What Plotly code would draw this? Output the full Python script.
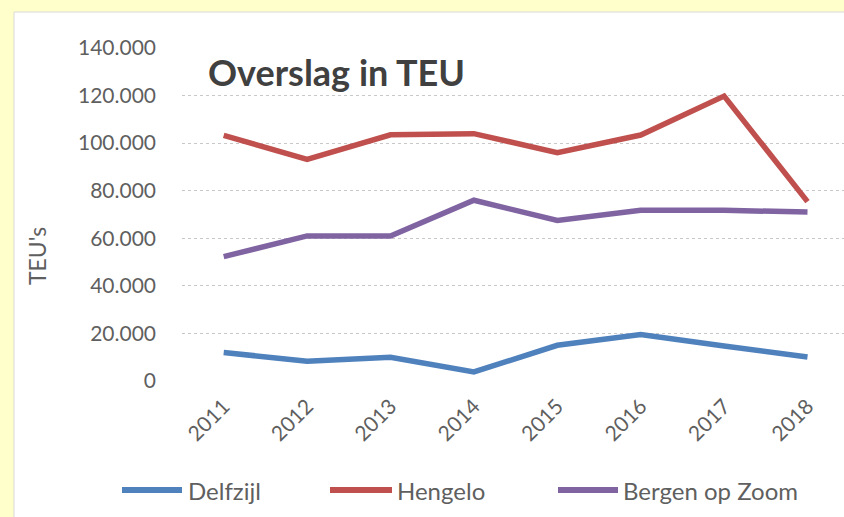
import plotly.graph_objects as go

years = ["2011", "2012", "2013", "2014", "2015", "2016", "2017", "2018"]
series_names = ["Delfzijl", "Hengelo", "Bergen op Zoom"]
delfzijl = [12000, 8300, 10000, 3800, 15000, 19500, 14700, 10100]
hengelo = [103300, 93200, 103500, 104000, 96000, 103400, 119800, 75400]
bergen = [52300, 61000, 61000, 76000, 67500, 71800, 71800, 71000]
colors = ["#4F81BD", "#C0504D", "#8064A2"]
y_ticks = [0, 20000, 40000, 60000, 80000, 100000, 120000, 140000]

W, H = 844, 517
L, R, T, B = 182, 844, 48, 381
pw, ph = R - L, B - T

def px(x):
    return (x - L) / pw

def py(y):
    return (B - y) / ph

fig = go.Figure()
for name, vals, col in zip(series_names, [delfzijl, hengelo, bergen], colors):
    fig.add_trace(go.Scatter(x=list(range(len(years))), y=vals, name=name, mode="lines",
                             line=dict(color=col, width=5.5), showlegend=False))

font = "Lato, 'Open Sans', sans-serif"
fig.update_layout(
    width=W, height=H,
    margin=dict(l=L, r=W - R, t=T, b=H - B, pad=0),
    paper_bgcolor="#FFFFCC",
    plot_bgcolor="rgba(0,0,0,0)",
    separators=",.",
    font=dict(family=font, color="#595959", size=15),
)
fig.update_xaxes(
    range=[-0.5, (R - L) / 83.4 - 0.5],
    tickmode="array", tickvals=list(range(len(years))), ticktext=years,
    tickangle=-45, showgrid=False, zeroline=False, showline=False,
    tickfont=dict(size=21, color="#5F5F5F"), ticklabelstandoff=8,
)
fig.update_yaxes(
    range=[0, 140000], tickvals=y_ticks, tickformat=",d",
    showgrid=True, gridcolor="#C8C8C8", griddash="dot", gridwidth=1,
    zeroline=False, showline=False,
    tickfont=dict(size=21, color="#5F5F5F"), ticklabelstandoff=25,
)

shapes = [
    dict(type="rect", xref="paper", yref="paper", x0=px(14), x1=px(850), y0=py(12), y1=py(525),
         fillcolor="white", line=dict(color="#D9D9D9", width=1), layer="below"),
]
annotations = [
    dict(text="<b>Overslag in TEU</b>", xref="paper", yref="paper", x=px(206), y=py(72),
         xanchor="left", yanchor="middle", showarrow=False,
         font=dict(family=font, size=36, color="#404040")),
    dict(text="TEU's", xref="paper", yref="paper", x=px(37), y=py(256), textangle=-90,
         xanchor="center", yanchor="middle", showarrow=False,
         font=dict(family=font, size=23, color="#5F5F5F")),
]
leg_x = [(122, 182, 186), (330, 392, 395), (558, 618, 621)]
ly = py(490)
for (x0, x1, xt), name, col in zip(leg_x, series_names, colors):
    shapes.append(dict(type="line", xref="paper", yref="paper", x0=px(x0), x1=px(x1), y0=ly, y1=ly,
                       line=dict(color=col, width=6)))
    annotations.append(dict(text=name, xref="paper", yref="paper", x=px(xt), y=ly,
                            xanchor="left", yanchor="middle", showarrow=False,
                            font=dict(family=font, size=24, color="#5F5F5F")))
fig.update_layout(shapes=shapes, annotations=annotations)

fig.write_html("out.html", config={"displayModeBar": False},
               post_script="document.body.style.margin='0';document.body.style.overflow='hidden';")
